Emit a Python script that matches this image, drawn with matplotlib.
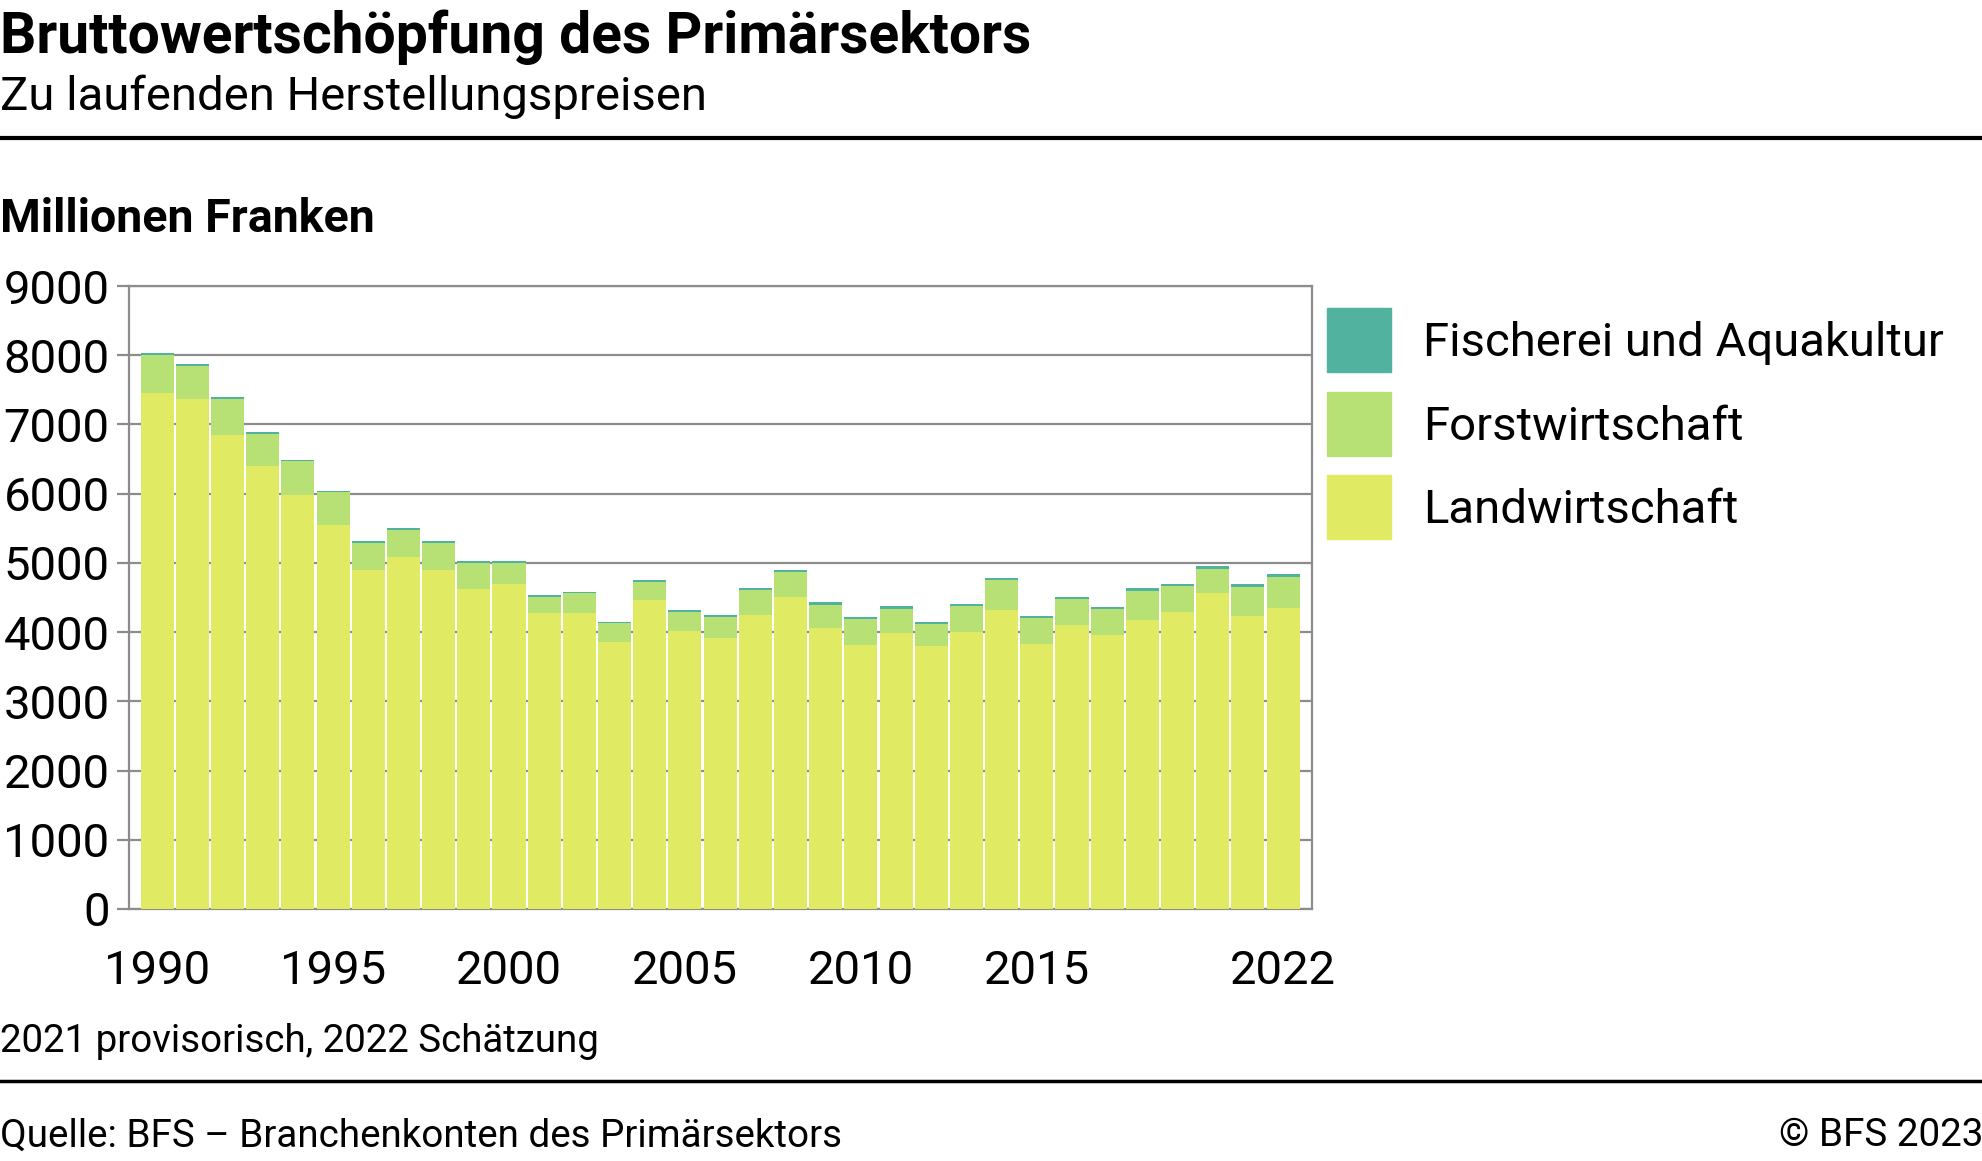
import numpy as np
import matplotlib
matplotlib.use("Agg")
import matplotlib.pyplot as plt
from matplotlib.lines import Line2D
from matplotlib.patches import Rectangle

plt.rcParams['font.family'] = ['Roboto', 'DejaVu Sans']

# values in Mio. CHF
years = list(range(1990, 2023))
landwirtschaft = [7460, 7370, 6850, 6400, 5985, 5550, 4900, 5090, 4900, 4625,
                  4700, 4280, 4280, 3860, 4465, 4020, 3920, 4250, 4510, 4060,
                  3815, 3990, 3800, 4005, 4320, 3830, 4105, 3960, 4180, 4295,
                  4565, 4235, 4350]
forstwirtschaft = [545, 470, 520, 465, 480, 470, 390, 385, 390, 375,
                   300, 230, 280, 265, 265, 275, 300, 360, 360, 338,
                   375, 350, 310, 365, 435, 375, 375, 375, 420, 365,
                   350, 420, 450]
fischerei = [25, 28, 28, 25, 24, 24, 24, 23, 24, 24,
             28, 24, 24, 24, 25, 24, 24, 28, 28, 30,
             28, 30, 32, 32, 33, 30, 33, 33, 33, 33,
             38, 38, 42]
series_names = ['Fischerei und Aquakultur', 'Forstwirtschaft', 'Landwirtschaft']
colors = {'Landwirtschaft': '#e0ea62', 'Forstwirtschaft': '#b7e174',
          'Fischerei und Aquakultur': '#52b2a0'}
xtick_years = [1990, 1995, 2000, 2005, 2010, 2015, 2022]
yticks = list(range(0, 10000, 1000))

W, H = 1983, 1161
fig = plt.figure(figsize=(W / 100, H / 100), dpi=100)

def fx(px):
    return px / W

def fy(py):
    return 1 - py / H

ax = fig.add_axes([fx(129), fy(909), fx(1312 - 129), (909 - 286) / H])

landw = np.array(landwirtschaft)
forst = np.array(forstwirtschaft)
fisch = np.array(fischerei)
ax.bar(years, landw, width=0.94, color=colors['Landwirtschaft'], zorder=3)
ax.bar(years, forst, bottom=landw, width=0.94, color=colors['Forstwirtschaft'], zorder=3)
ax.bar(years, fisch, bottom=landw + forst, width=0.94,
       color=colors['Fischerei und Aquakultur'], zorder=3)

ax.set_xlim(1989.2, 2022.82)
ax.set_ylim(0, 9000)
ax.set_yticks(yticks)
ax.set_xticks(xtick_years)
ax.yaxis.grid(True, color='#8c8c8c', linewidth=1.6, zorder=0)
ax.set_axisbelow(True)
for s in ['left', 'right', 'bottom', 'top']:
    ax.spines[s].set_color('#8c8c8c')
    ax.spines[s].set_linewidth(1.6)
ax.tick_params(axis='y', length=9, width=1.6, color='#8c8c8c', pad=5, labelsize=34)
ax.tick_params(axis='x', length=0, pad=29, labelsize=34)

# titles
fig.text(0, fy(37), 'Bruttowertschöpfung des Primärsektors', fontsize=41,
         fontweight='bold', va='center', ha='left')
fig.text(0, fy(97), 'Zu laufenden Herstellungspreisen', fontsize=34,
         va='center', ha='left')
fig.add_artist(Line2D([0, 1], [fy(138), fy(138)], transform=fig.transFigure,
                      color='black', linewidth=3))
fig.text(0, fy(219), 'Millionen Franken', fontsize=33.5, fontweight='bold',
         va='center', ha='left')

# legend
for i, name in enumerate(series_names):
    yc = [340, 424, 507][i]
    fig.add_artist(Rectangle((fx(1327), fy(yc + 32)), fx(64), 64 / H,
                             transform=fig.transFigure, color=colors[name]))
    fig.text(fx(1423), fy(yc + 3), name, fontsize=34, va='center', ha='left')

# footer
fig.text(0, fy(1042), '2021 provisorisch, 2022 Schätzung', fontsize=27.7,
         va='center', ha='left')
fig.add_artist(Line2D([0, 1], [fy(1081), fy(1081)], transform=fig.transFigure,
                      color='black', linewidth=2.5))
fig.text(0, fy(1136), 'Quelle: BFS – Branchenkonten des Primärsektors', fontsize=27.8,
         va='center', ha='left')
fig.text(1, fy(1136), '© BFS 2023', fontsize=27.8, va='center', ha='right')

fig.savefig('out.png', dpi=100)
